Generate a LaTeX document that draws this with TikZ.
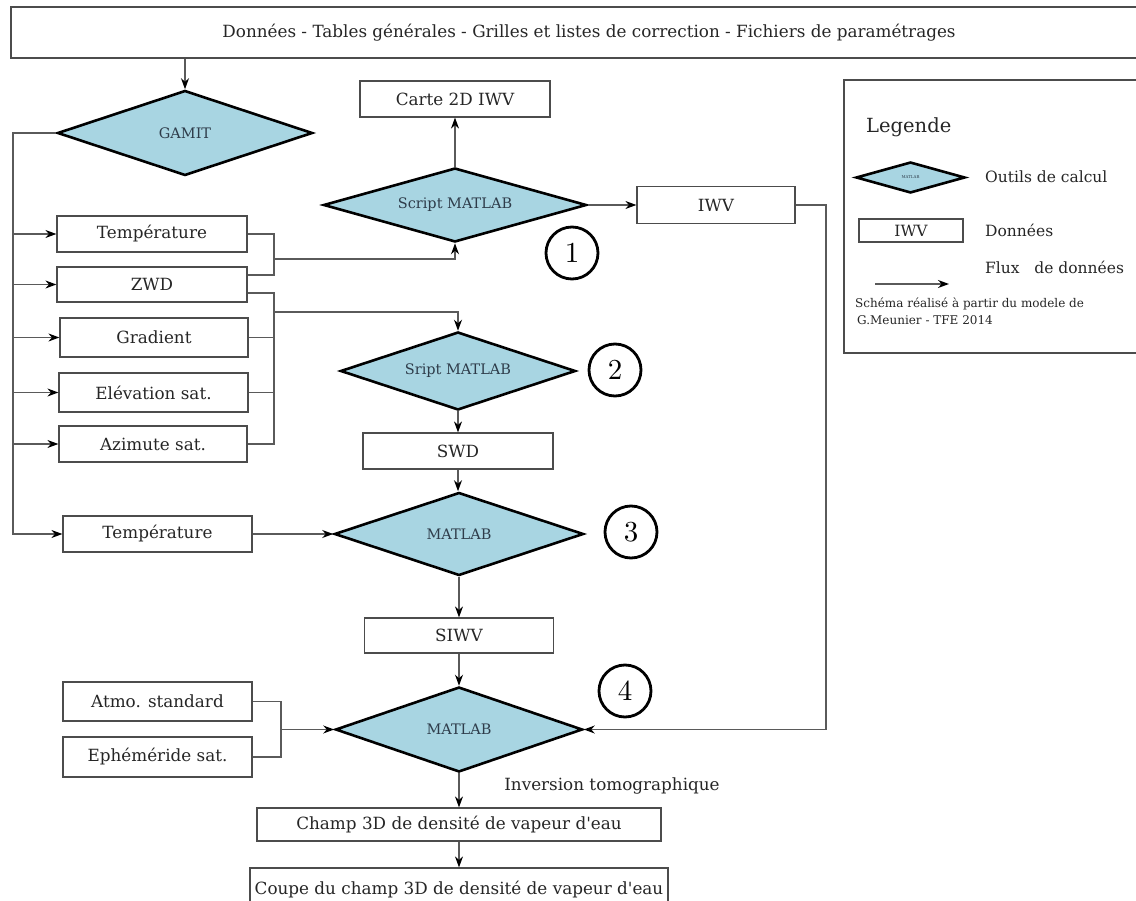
\documentclass[tikz,border=0pt]{standalone}
\usepackage{fontspec}
\setmainfont[Ligatures=TeXOff]{DejaVu Serif}
\newfontfamily\lmfont[Extension=.otf]{lmroman10-regular}
\usetikzlibrary{shapes.geometric,arrows.meta}
\definecolor{dfill}{HTML}{A8D5E2}
\definecolor{ltxt}{HTML}{2E3C4A}
\definecolor{lcol}{HTML}{5A5A5A}
\begin{document}
\begin{tikzpicture}[x=1pt,y=-1pt,
  dbox/.style={draw=black!70, line width=1.2pt, fill=white, inner sep=0pt,
    font=\fontsize{16.8}{17}\selectfont, text=black!85},
  tool/.style={diamond, draw=black, line width=2.6pt, fill=dfill, inner sep=0pt,
    font=\fontsize{14.5}{14.5}\selectfont, text=ltxt},
  num/.style={circle, draw=black, line width=2.8pt, minimum size=52pt, inner sep=0pt,
    font=\lmfont\fontsize{29}{29}\selectfont},
  conn/.style={draw=lcol, line width=1.3pt},
  arr/.style={conn, -{Stealth[length=11pt,width=8pt,color=black]}},
  lab/.style={inner sep=0pt, font=\fontsize{16.8}{17}\selectfont, text=black!85},
  leg/.style={inner sep=0pt, font=\fontsize{15.5}{16}\selectfont, text=black!85},
  small/.style={inner sep=0pt, font=\fontsize{12}{12}\selectfont, text=black!85}
]
\useasboundingbox (0,0) rectangle (1136,901);
\clip (0,0) rectangle (1136,901);
\fill[white] (0,0) rectangle (1136,901);

% top box
\node[dbox, minimum width=1156, minimum height=51] (top) at (589,32.5)
  {Données - Tables générales - Grilles et listes de correction - Fichiers de paramétrages};

% tools
\node[tool, aspect=3, minimum width=255, minimum height=85] (gamit) at (185,133) {GAMIT};
\node[tool, aspect=3.5, minimum width=263, minimum height=74] (script1) at (455,205) {Script MATLAB};
\node[tool, aspect=3, minimum width=235, minimum height=78] (sript2) at (458,371) {Sript MATLAB};
\node[tool, aspect=3, minimum width=249, minimum height=83] (matlab3) at (459,534) {MATLAB};
\node[tool, aspect=3, minimum width=247, minimum height=85] (matlab4) at (459,729.5) {MATLAB};

% data boxes
\node[dbox, minimum width=190, minimum height=36] (temp1) at (152,234) {Température};
\node[dbox, minimum width=190, minimum height=35] (zwd) at (152,284.5) {ZWD};
\node[dbox, minimum width=188, minimum height=39] (grad) at (154,337.5) {Gradient};
\node[dbox, minimum width=189, minimum height=39] (elev) at (153.5,392.5) {Elévation sat.};
\node[dbox, minimum width=188, minimum height=36] (azim) at (153,444) {Azimute sat.};
\node[dbox, minimum width=189, minimum height=36] (temp2) at (157.5,534) {Température};
\node[dbox, minimum width=190, minimum height=36] (carte) at (455,99) {Carte 2D IWV};
\node[dbox, minimum width=158, minimum height=37] (iwv) at (716,205) {IWV};
\node[dbox, minimum width=190, minimum height=36] (swd) at (458,451) {SWD};
\node[dbox, minimum width=189, minimum height=35] (siwv) at (459,635.5) {SIWV};
\node[dbox, minimum width=189, minimum height=39] (atmo) at (157.5,701.5) {Atmo. standard};
\node[dbox, minimum width=189, minimum height=40] (eph) at (157.5,757) {Ephéméride sat.};
\node[dbox, minimum width=404, minimum height=33] (champ) at (459,824.5) {Champ 3D de densité de vapeur d'eau};
\node[dbox, minimum width=418, minimum height=40, text depth=0pt] (coupe) at (459,888) {Coupe du champ 3D de densité de vapeur d'eau};

% numbered circles
\node[num] (c1) at (572,253) {1};
\node[num] (c2) at (615,370) {2};
\node[num] (c3) at (631,532) {3};
\node[num] (c4) at (625,691) {4};

\node[lab] (inv) at (612,786) {Inversion tomographique};

% helper coordinates
\coordinate (bus) at (13,0);
\coordinate (b1) at (274,0);
\coordinate (b3) at (281,0);
\coordinate (rl) at (826,0);
\coordinate (j1) at (274,259);
\coordinate (j2) at (274,312);
\coordinate (z1) at ([yshift=9.5pt]zwd.east);
\coordinate (z2) at ([yshift=-8.5pt]zwd.east);

% connectors
\draw[arr] (gamit.north |- top.south) -- (gamit.north);
\draw[arr] (gamit.west) -| (bus |- temp2) -- (temp2.west);
\foreach \n in {temp1,zwd,grad,elev,azim}
  \draw[arr] (bus |- \n) -- (\n.west);
\draw[conn] (temp1.east) -| (b1 |- z1) -- (z1);
\draw[arr] (j1) -| (script1.south);
\draw[conn] (z2) -| (b1 |- azim) -- (azim.east);
\draw[conn] (grad.east) -- (b1 |- grad);
\draw[conn] (elev.east) -- (b1 |- elev);
\draw[arr] (j2) -| (sript2.north);
\draw[arr] (script1.north) -- (carte.south);
\draw[arr] (script1.east) -- (iwv.west);
\draw[arr] (iwv.east) -| (rl |- matlab4) -- (matlab4.east);
\draw[arr] (sript2.south) -- (swd.north);
\draw[arr] (swd.south) -- (swd.south |- matlab3.north);
\draw[arr] (temp2.east) -- (matlab3.west);
\draw[arr] (matlab3.south) -- (siwv.north);
\draw[arr] (siwv.south) -- (matlab4.north);
\draw[conn] (atmo.east) -| (b3 |- eph) -- (eph.east);
\draw[arr] (b3 |- matlab4) -- (matlab4.west);
\draw[arr] (matlab4.south) -- (champ.north);
\draw[arr] (champ.south) -- (coupe.north);

% legend
\node[draw=black!70, line width=1.2pt, minimum width=316, minimum height=273, inner sep=0pt] (legend) at (1002,216.5) {};
\node[leg, anchor=west, font=\fontsize{19.5}{19.5}\selectfont] (lgt) at (866,127) {Legende};
\node[tool, aspect=3.5, minimum width=109, minimum height=31, font=\fontsize{4}{4}\selectfont] (ldia) at (910.5,177.5) {MATLAB};
\node[leg, anchor=west] (ltool) at (985,177) {Outils de calcul};
\node[dbox, minimum width=104, minimum height=23, font=\fontsize{15.5}{16}\selectfont] (lbox) at (911,230.5) {IWV};
\node[leg, anchor=west] (ldata) at (985,230) {Données};
\node[leg, anchor=west] (lflux) at (985,267) {Flux\ \ \ de données};
\coordinate (la1) at (875,284);
\coordinate (la2) at (949,284);
\draw[arr] (la1) -- (la2);
\node[small, anchor=west] (ls1) at (855,304) {Schéma réalisé à partir du modele de};
\node[small, anchor=west] (ls2) at (857,320) {G.Meunier - TFE 2014};
\end{tikzpicture}
\end{document}
